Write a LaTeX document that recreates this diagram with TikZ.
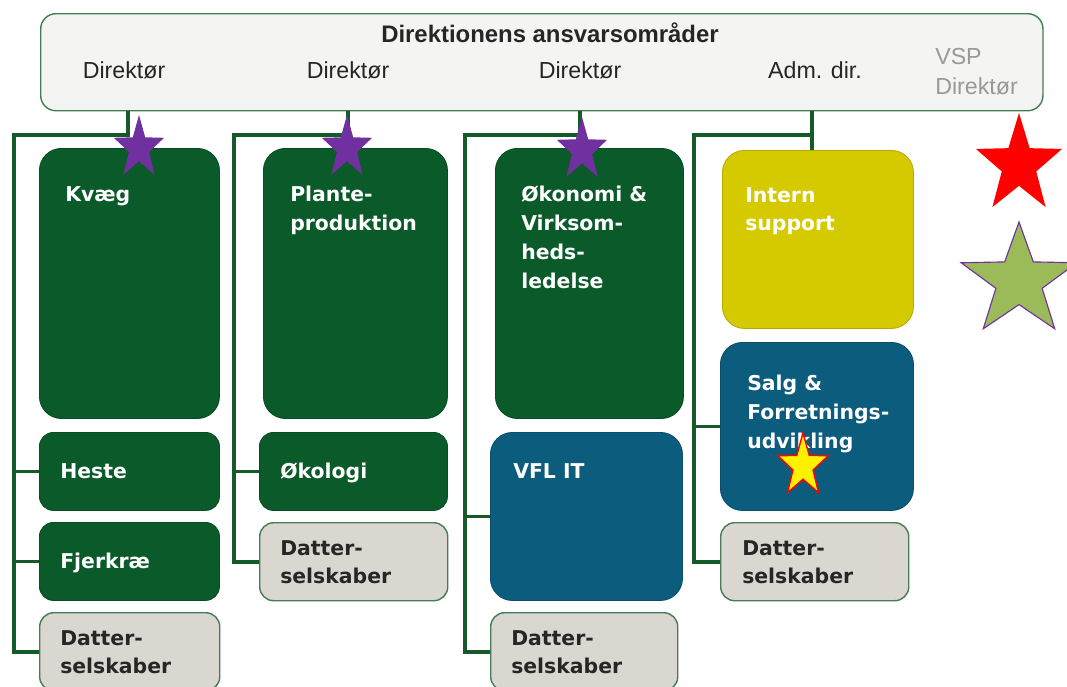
\documentclass[tikz,border=0pt]{standalone}
\usepackage{fontspec}
\setmainfont{Liberation Sans}
\newfontfamily\vfont{DejaVu Sans}
\usetikzlibrary{shapes.geometric}

\definecolor{vgreen}{HTML}{0B5A2A}
\definecolor{vgreenline}{HTML}{175A2A}
\definecolor{vblue}{HTML}{0C5C7E}
\definecolor{vyellow}{HTML}{D5C900}
\definecolor{vgray}{HTML}{D9D7D0}
\definecolor{vtop}{HTML}{F4F4F2}
\definecolor{vpurple}{HTML}{7030A0}
\definecolor{vlime}{HTML}{9BBB59}

\begin{document}
\begin{tikzpicture}[x=0.025cm, y=-0.025cm,
  conn/.style={draw=vgreenline, line width=2.7pt},
  bigbox/.style={rectangle, rounded corners=0.55cm, anchor=north west, inner sep=0pt, draw=#1!85!black, fill=#1, line width=0.6pt},
  smallbox/.style={rectangle, rounded corners=0.35cm, anchor=north west, inner sep=0pt, draw=#1!85!black, fill=#1, line width=0.6pt},
  graybox/.style={rectangle, rounded corners=0.35cm, anchor=north west, inner sep=0pt, draw=vgreenline!80, fill=vgray, line width=1pt},
  boxtext/.style={anchor=north west, inner sep=0pt, align=left, text=white, font=\vfont\bfseries\fontsize{14.5}{20.5}\selectfont},
  graytext/.style={boxtext, text=black!85},
  toptext/.style={inner sep=0pt, text=black!85, font=\fontsize{16.5}{21}\selectfont},
  vstar/.style={star, star points=5, star point ratio=2.5, inner sep=0pt, minimum size=#1, transform shape}]
\useasboundingbox (0,0) rectangle (1067,686);

\node[rectangle, rounded corners=0.38cm, anchor=north west, minimum width=25.05cm, minimum height=2.425cm, draw=vgreenline!80, fill=vtop, line width=1pt] (dir) at (40,13) {};
\node[toptext, font=\bfseries\fontsize{17}{21}\selectfont] (dirtitle) at (550,33) {Direktionens ansvarsområder};
\node[toptext] (dirA) at (124,70) {Direktør};
\node[toptext] (dirB) at (348,70) {Direktør};
\node[toptext] (dirC) at (580,70) {Direktør};
\node[toptext] (dirD) at (815,70) {Adm. dir.};
\node[toptext, anchor=north west, align=left, text=black!40] (dirE) at (935,48) {VSP\\Direktør};

\node[bigbox=vgreen, minimum width=4.5cm, minimum height=6.75cm] (kvaeg) at (39,148) {};
\node[smallbox=vgreen, minimum width=4.5cm, minimum height=1.95cm] (heste) at (39,432) {};
\node[smallbox=vgreen, minimum width=4.5cm, minimum height=1.95cm] (fjerkrae) at (39,522) {};
\node[graybox, minimum width=4.5cm, minimum height=1.95cm] (datterA) at (39,612) {};

\node[bigbox=vgreen, minimum width=4.6cm, minimum height=6.75cm] (plante) at (263,148) {};
\node[smallbox=vgreen, minimum width=4.7cm, minimum height=1.95cm] (oekologi) at (259,432) {};
\node[graybox, minimum width=4.7cm, minimum height=1.95cm] (datterB) at (259,522) {};

\node[bigbox=vgreen, minimum width=4.7cm, minimum height=6.75cm] (oekonomi) at (495,148) {};
\node[bigbox=vblue, minimum width=4.8cm, minimum height=4.2cm] (vflit) at (490,432) {};
\node[graybox, minimum width=4.675cm, minimum height=1.95cm] (datterC) at (490,612) {};

\node[bigbox=vyellow, minimum width=4.775cm, minimum height=4.45cm] (intern) at (722,150) {};
\node[bigbox=vblue, minimum width=4.825cm, minimum height=4.2cm] (salg) at (720,342) {};
\node[graybox, minimum width=4.7cm, minimum height=1.95cm] (datterD) at (720,522) {};

\node[boxtext] (kvaegtxt) at (65,186) {Kvæg};
\node[boxtext] (hestetxt) at (60,463) {Heste};
\node[boxtext] (fjerkraetxt) at (60,553) {Fjerkræ};
\node[graytext] (datterAtxt) at (60,630) {Datter-\\selskaber};
\node[boxtext] (plantetxt) at (290,186) {Plante-\\produktion};
\node[boxtext] (oekologitxt) at (280,463) {Økologi};
\node[graytext] (datterBtxt) at (280,540) {Datter-\\selskaber};
\node[boxtext] (oekonomitxt) at (521,186) {Økonomi \&\\Virksom-\\heds-\\ledelse};
\node[boxtext] (vflittxt) at (513,463) {VFL IT};
\node[graytext] (datterCtxt) at (511,630) {Datter-\\selskaber};
\node[boxtext] (interntxt) at (745,187) {Intern\\support};
\node[boxtext] (salgtxt) at (747,375) {Salg \&\\Forretnings-\\udvikling};
\node[graytext] (datterDtxt) at (742,540) {Datter-\\selskaber};

\coordinate (jA) at (128,135);
\coordinate (jB) at (348,135);
\coordinate (jC) at (580,135);
\coordinate (jD) at (812,135);
\coordinate (sA) at (14,135);
\coordinate (sB) at (234,135);
\coordinate (sC) at (465,135);
\coordinate (sD) at (694,135);

\draw[conn] (dir.south -| jA) -- (jA) -- (sA) |- (datterA.west);
\draw[conn] (sA |- heste.west) -- (heste.west);
\draw[conn] (sA |- fjerkrae.west) -- (fjerkrae.west);
\draw[conn] (dir.south -| jB) -- (jB) -- (sB) |- (datterB.west);
\draw[conn] (sB |- oekologi.west) -- (oekologi.west);
\draw[conn] (dir.south -| jC) -- (jC) -- (sC) |- (datterC.west);
\draw[conn] (sC |- vflit.west) -- (vflit.west);
\draw[conn] (dir.south -| jD) -- (intern.north -| jD);
\draw[conn] (jD) -- (sD) |- (datterD.west);
\draw[conn] (sD |- salg.west) -- (salg.west);

\begin{scope}[shift={(139,148)}, xscale=0.8]
\node[vstar=1.65cm, fill=vpurple] (starA) {};
\end{scope}
\begin{scope}[shift={(347,148)}, xscale=0.8]
\node[vstar=1.65cm, fill=vpurple] (starB) {};
\end{scope}
\begin{scope}[shift={(582,150)}, xscale=0.8]
\node[vstar=1.65cm, fill=vpurple] (starC) {};
\end{scope}
\begin{scope}[shift={(803,466)}, xscale=0.8]
\node[vstar=1.65cm, fill=yellow, draw=red, line width=1pt] (starY) {};
\end{scope}
\begin{scope}[shift={(1019,165)}, xscale=0.87]
\node[vstar=2.6cm, fill=red] (starR) {};
\end{scope}
\begin{scope}[shift={(1019,281)}, xscale=1.03]
\node[vstar=2.95cm, fill=vlime, draw=vpurple, line width=0.8pt] (starG) {};
\end{scope}
\end{tikzpicture}
\end{document}
